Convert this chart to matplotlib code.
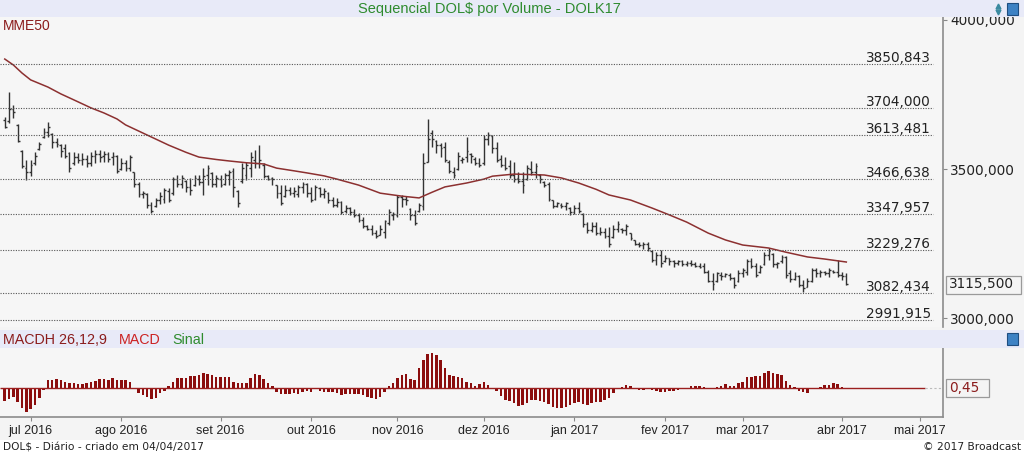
#!/usr/bin/env python3
"""
Sequencial DOL$ por Volume - DOLK17: daily OHLC bars, MME50 and MACDH panel.
"""

import numpy as np
import pandas as pd
import matplotlib
matplotlib.use("Agg")
import matplotlib.pyplot as plt
from matplotlib.patches import Rectangle
from matplotlib.lines import Line2D
from matplotlib.transforms import blended_transform_factory

# ---- data ----
start_date = "2016-06-23"
end_date = "2017-05-12"
holidays = ["2016-09-07", "2016-10-12", "2016-11-02", "2016-11-15", "2016-12-30",
            "2017-01-25", "2017-02-27", "2017-02-28", "2017-04-14", "2017-04-21",
            "2017-05-01"]
month_names = ["jan", "fev", "mar", "abr", "mai", "jun",
               "jul", "ago", "set", "out", "nov", "dez"]

highs = [3674, 3758, 3715, 3651, 3564, 3530, 3530, 3557, 3591, 3638,
         3658, 3621, 3604, 3584, 3584, 3557, 3557, 3554, 3554, 3547,
         3557, 3564, 3564, 3560, 3557, 3557, 3547, 3537, 3530, 3547,
         3490, 3456, 3426, 3419, 3389, 3403, 3423, 3436, 3436, 3473,
         3480, 3480, 3463, 3470, 3480, 3480, 3503, 3513, 3490, 3480,
         3480, 3487, 3497, 3503, 3429, 3520, 3523, 3557, 3564, 3580,
         3520, 3480, 3473, 3446, 3446, 3446, 3440, 3440, 3446, 3456,
         3453, 3440, 3446, 3440, 3436, 3423, 3406, 3403, 3393, 3379,
         3372, 3366, 3352, 3339, 3312, 3312, 3295, 3312, 3329, 3366,
         3356, 3413, 3413, 3409, 3369, 3362, 3386, 3554, 3668, 3631,
         3597, 3587, 3591, 3530, 3507, 3557, 3540, 3607, 3554, 3540,
         3537, 3614, 3624, 3614, 3591, 3547, 3540, 3530, 3523, 3490,
         3490, 3513, 3527, 3520, 3483, 3460, 3456, 3396, 3389, 3386,
         3389, 3372, 3379, 3389, 3352, 3322, 3322, 3322, 3305, 3302,
         3305, 3312, 3325, 3302, 3315, 3285, 3262, 3255, 3255, 3255,
         3228, 3221, 3228, 3211, 3201, 3195, 3195, 3195, 3191, 3195,
         3188, 3184, 3184, 3161, 3151, 3154, 3154, 3151, 3151, 3138,
         3161, 3168, 3198, 3201, 3184, 3178, 3221, 3235, 3218, 3188,
         3211, 3208, 3161, 3154, 3144, 3127, 3134, 3168, 3168, 3161,
         3158, 3168, 3161, 3195, 3154, 3151]

lows = [3638, 3654, 3671, 3591, 3503, 3463, 3476, 3513, 3564, 3604,
        3607, 3570, 3574, 3540, 3537, 3490, 3513, 3520, 3513, 3507,
        3510, 3520, 3523, 3523, 3523, 3513, 3487, 3497, 3493, 3493,
        3440, 3406, 3403, 3369, 3352, 3372, 3383, 3386, 3389, 3413,
        3440, 3436, 3423, 3413, 3443, 3446, 3413, 3446, 3440, 3440,
        3440, 3446, 3446, 3406, 3372, 3453, 3463, 3473, 3503, 3503,
        3470, 3463, 3446, 3403, 3379, 3406, 3413, 3406, 3406, 3419,
        3406, 3389, 3396, 3406, 3403, 3386, 3372, 3372, 3349, 3352,
        3346, 3339, 3322, 3302, 3295, 3278, 3268, 3278, 3268, 3312,
        3329, 3339, 3372, 3379, 3329, 3312, 3356, 3362, 3523, 3574,
        3554, 3540, 3523, 3487, 3470, 3497, 3520, 3523, 3520, 3513,
        3507, 3513, 3580, 3554, 3523, 3507, 3497, 3470, 3456, 3453,
        3419, 3463, 3480, 3470, 3453, 3440, 3393, 3369, 3372, 3369,
        3362, 3346, 3349, 3352, 3305, 3285, 3289, 3278, 3278, 3268,
        3238, 3268, 3289, 3285, 3278, 3262, 3245, 3238, 3231, 3225,
        3188, 3178, 3171, 3188, 3178, 3171, 3178, 3174, 3174, 3174,
        3171, 3168, 3151, 3121, 3094, 3121, 3127, 3138, 3127, 3101,
        3121, 3138, 3144, 3168, 3138, 3151, 3178, 3195, 3171, 3168,
        3184, 3134, 3121, 3127, 3104, 3087, 3104, 3121, 3138, 3138,
        3144, 3138, 3151, 3138, 3127, 3111]

opens = [3665, 3660, 3700, 3648, 3560, 3505, 3490, 3520, 3567, 3607,
         3625, 3618, 3590, 3580, 3570, 3555, 3520, 3540, 3530, 3535,
         3520, 3545, 3550, 3545, 3550, 3540, 3545, 3500, 3520, 3505,
         3490, 3450, 3415, 3415, 3380, 3375, 3395, 3400, 3425, 3420,
         3465, 3450, 3460, 3440, 3448, 3465, 3455, 3480, 3485, 3450,
         3465, 3450, 3480, 3495, 3425, 3460, 3480, 3505, 3530, 3520,
         3515, 3478, 3470, 3445, 3420, 3410, 3430, 3420, 3415, 3440,
         3450, 3420, 3400, 3435, 3415, 3420, 3395, 3380, 3390, 3360,
         3370, 3355, 3345, 3330, 3310, 3300, 3285, 3280, 3290, 3320,
         3345, 3345, 3405, 3400, 3365, 3345, 3360, 3375, 3525, 3620,
         3595, 3580, 3575, 3525, 3490, 3500, 3530, 3540, 3550, 3535,
         3520, 3520, 3600, 3610, 3570, 3535, 3515, 3510, 3480, 3470,
         3460, 3468, 3500, 3490, 3480, 3458, 3450, 3395, 3375, 3380,
         3375, 3370, 3355, 3370, 3350, 3315, 3295, 3310, 3285, 3290,
         3275, 3272, 3300, 3300, 3295, 3285, 3262, 3250, 3245, 3250,
         3226, 3195, 3210, 3190, 3200, 3190, 3185, 3190, 3180, 3185,
         3180, 3175, 3175, 3155, 3125, 3125, 3145, 3140, 3145, 3135,
         3125, 3150, 3155, 3190, 3175, 3155, 3180, 3210, 3215, 3180,
         3190, 3205, 3150, 3130, 3140, 3110, 3105, 3125, 3160, 3150,
         3155, 3150, 3158, 3155, 3145, 3140]

closes = [3642, 3700, 3690, 3594, 3510, 3490, 3515, 3545, 3585, 3625,
          3640, 3590, 3585, 3560, 3545, 3505, 3540, 3530, 3535, 3520,
          3545, 3550, 3540, 3550, 3535, 3545, 3495, 3520, 3505, 3540,
          3450, 3415, 3420, 3380, 3360, 3395, 3410, 3430, 3395, 3465,
          3450, 3470, 3440, 3430, 3470, 3455, 3475, 3505, 3450, 3470,
          3445, 3480, 3490, 3440, 3385, 3505, 3515, 3540, 3520, 3530,
          3475, 3468, 3465, 3420, 3385, 3430, 3420, 3425, 3440, 3450,
          3420, 3395, 3440, 3415, 3425, 3395, 3380, 3390, 3355, 3370,
          3355, 3345, 3330, 3310, 3300, 3285, 3275, 3300, 3325, 3355,
          3350, 3405, 3400, 3395, 3345, 3320, 3380, 3520, 3600, 3600,
          3580, 3570, 3530, 3495, 3480, 3545, 3535, 3560, 3545, 3520,
          3515, 3600, 3615, 3570, 3530, 3515, 3505, 3480, 3465, 3460,
          3445, 3505, 3490, 3510, 3465, 3445, 3400, 3375, 3385, 3375,
          3385, 3355, 3370, 3360, 3315, 3295, 3310, 3285, 3290, 3275,
          3250, 3300, 3315, 3295, 3310, 3270, 3250, 3245, 3250, 3235,
          3195, 3210, 3185, 3200, 3190, 3185, 3190, 3180, 3185, 3180,
          3175, 3172, 3155, 3125, 3115, 3150, 3140, 3148, 3135, 3110,
          3150, 3160, 3190, 3175, 3145, 3170, 3210, 3225, 3180, 3185,
          3205, 3145, 3130, 3140, 3110, 3100, 3125, 3160, 3150, 3155,
          3150, 3160, 3155, 3145, 3140, 3115.5]

# MME50 read at sample bars
mme_idx = [0, 2, 4, 6, 10, 13, 16, 20, 23, 26, 28, 33, 38, 42, 45, 49, 52, 56,
           60, 63, 67, 70, 74, 77, 82, 87, 92, 96, 99, 102, 107, 111, 113, 118,
           125, 129, 133, 137, 140, 145, 150, 154, 158, 163, 167, 171, 177, 181,
           186, 190, 195]
mme_val = [3869, 3849, 3822, 3799, 3775, 3752, 3732, 3705, 3688, 3668, 3648,
           3614, 3580, 3556, 3540, 3532, 3527, 3521, 3517, 3503, 3494, 3487,
           3477, 3466, 3446, 3419, 3409, 3403, 3422, 3440, 3453, 3466, 3476,
           3483, 3480, 3470, 3453, 3432, 3413, 3396, 3369, 3346, 3322, 3285,
           3262, 3245, 3235, 3221, 3205, 3198, 3188]

macdh = [-12.3, -11, -9, -13.3, -20, -23.3, -21, -16.7, -10, -1.5,
         8.3, 8.3, 9, 8.3, 6, 5, 5, 4.3, 4.3, 5.7,
         6.3, 7.7, 9, 9, 8.3, 10, 8.3, 8.3, 8.3, 6,
         0.7, -4.3, -6.7, -8.3, -11, -10, -5, -2.3, 2.3, 6.7,
         10, 10, 10, 12.3, 12.3, 13.3, 15, 14.3, 13.3, 11,
         11, 11.7, 11.7, 6.7, 5, 5.7, 5.7, 10, 14.3, 13.3,
         9, 5, 2.3, -3.3, -5.7, -5.7, -5.7, -5, -5.7, -4,
         -2.3, -3.3, -1, -2.3, -3.3, -3.3, -4, -4.3, -6.7, -6,
         -5.7, -5.7, -6, -7, -9, -10, -11, -8.3, -3.3, 2.3,
         5, 10, 13.3, 14.3, 9, 8.3, 20, 28.3, 34, 35.7,
         33.3, 28.3, 20, 13.3, 12.3, 11, 10, 6.7, 5, 2.3,
         4.3, 6.7, 3.3, 0, -2.3, -7.7, -11.7, -13, -15, -17.7,
         -17, -15, -12, -12, -13, -13.3, -16, -19, -20, -20,
         -19, -17, -15, -13.3, -16, -17, -15, -14, -14, -12,
         -10, -5, 0.5, 1.7, 3.3, 2, 0, -1.7, -1.7, -1,
         -1.7, -3, -3.3, -3.3, -3, -3, -1.7, -0.7, 0, 2.3,
         2.3, 2.3, 1, -1, 0, 1.7, 2, 4, 2.3, 2,
         5.7, 6.7, 11, 11, 12.3, 12, 15, 17, 15, 14,
         13.3, 7.7, 3.3, 1, -3, -3.3, -5, -0.5, 0.5, 1.7,
         3, 3.3, 5, 4, 1.7, 0.45]

levels = [3850.843, 3704.000, 3613.481, 3466.638, 3347.957, 3229.276, 3082.434, 2991.915]
price_ticks = [3000, 3500, 4000]
last_price = 3115.5
last_macdh = 0.45

# ---- layout helpers (pixel -> figure fraction) ----
W, H = 1024, 455


def fx(x):
    return x / W


def fy(y):
    return 1 - y / H


def br(v, dec=3):
    return f"{v:.{dec}f}".replace(".", ",")


plt.rcParams["font.family"] = ["Liberation Sans", "DejaVu Sans"]
NUMFONT = "DejaVu Sans"
DARKRED = "#8b1c1c"
BAND = "#e8eaf8"

dates = pd.bdate_range(start_date, end_date, freq="C", holidays=holidays)
month_pos = [i for i in range(1, len(dates)) if dates[i].month != dates[i - 1].month]
month_lab = [f"{month_names[dates[i].month - 1]} {dates[i].year}" for i in month_pos]

x = np.arange(len(closes))
XMIN, XMAX = -1.1, 217.4

fig = plt.figure(figsize=(10.24, 4.55), dpi=100, facecolor="#f4f4f4")

# bands
for y0, y1, col in [(0, 17, BAND), (330, 348, BAND), (440, 455, "white")]:
    fig.patches.append(Rectangle((0, fy(y1)), 1, (y1 - y0) / H, transform=fig.transFigure,
                                 facecolor=col, edgecolor="none", zorder=0))

fig.text(fx(489), fy(8.5), "Sequencial DOL$ por Volume - DOLK17", color="#2e8b2e",
         fontsize=10.5, ha="center", va="center")

# small icons
fig.add_artist(Line2D([fx(998)], [fy(5.5)], marker="^", ms=3.5, color="#3a8aa0",
                      transform=fig.transFigure))
fig.add_artist(Line2D([fx(998)], [fy(11.5)], marker="v", ms=3.5, color="#3a8aa0",
                      transform=fig.transFigure))
for ytop in (3, 333):
    fig.patches.append(Rectangle((fx(1007), fy(ytop + 12)), 11 / W, 12 / H,
                                 transform=fig.transFigure, facecolor="#3d82c4",
                                 edgecolor="#1f4e80", lw=0.8))

# ---- main price panel ----
ax = fig.add_axes([0, fy(327), 943 / W, (327 - 17) / H])
ax.set_facecolor("#f6f6f6")
ax.set_xlim(XMIN, XMAX)
ax.set_ylim(2970, 4010)

bar_col = "#333333"
ax.vlines(x, lows, highs, color=bar_col, lw=1.0)
ax.hlines(opens, x - 0.42, x, color=bar_col, lw=1.0)
ax.hlines(closes, x, x + 0.42, color=bar_col, lw=1.0)

ax.plot(mme_idx, mme_val, color="#8c3030", lw=1.1)

xr = 933 / 943
for lv in levels:
    ax.axhline(lv, xmin=0, xmax=xr, color="#555555", lw=0.8, ls=(0, (1, 1.3)))
    ax.annotate(br(lv), xy=(931 / 943, lv), xycoords=("axes fraction", "data"),
                xytext=(0, 2), textcoords="offset pixels", ha="right", va="baseline",
                fontsize=9.8, family=NUMFONT, color="#222222")

ax.text(3 / 943, 0.972, "MME50", transform=ax.transAxes, color=DARKRED,
        fontsize=10, ha="left", va="center")

ax.set_xticks([])
ax.yaxis.tick_right()
ax.set_yticks(price_ticks)
ax.set_yticklabels([br(v) for v in price_ticks], family=NUMFONT)
ax.tick_params(axis="y", length=3, width=0.8, color="#888888", pad=2,
               labelsize=9.8, labelcolor="#222222")
for s in ("top", "left", "bottom"):
    ax.spines[s].set_visible(False)
ax.spines["right"].set_color("#8c8c8c")
ax.spines["right"].set_linewidth(1.2)

# last price box
tr = blended_transform_factory(fig.transFigure, ax.transData)
ax.text(fx(949), last_price, br(last_price), transform=tr, ha="left", va="center",
        fontsize=9.8, family=NUMFONT, color="#222222", clip_on=False)
fig.patches.append(Rectangle((fx(946), fy(294)), 75 / W, 18 / H, transform=fig.transFigure,
                             facecolor="none", edgecolor="#9a9a9a", lw=0.9))

# ---- MACDH panel ----
ax2 = fig.add_axes([0, fy(416.7), 943 / W, (416.7 - 348) / H])
ax2.set_facecolor("#f6f6f6")
ax2.set_xlim(XMIN, XMAX)
ax2.set_ylim(-28.4, 40.3)
ax2.bar(x, macdh, width=0.58, color="#8b0d0d", edgecolor="none")
ax2.hlines(0, XMIN, 213.3, color="#9b1f1f", lw=1.0)
ax2.hlines(0, 213.3, XMAX, color="#bbbbbb", lw=0.8, ls=(0, (2, 2)))

ax2.set_yticks([])
ax2.set_xticks(month_pos)
ax2.set_xticklabels(month_lab)
ax2.tick_params(axis="x", length=3, width=0.8, color="#888888", pad=3,
                labelsize=9, labelcolor="#222222")
for s in ("top", "left"):
    ax2.spines[s].set_visible(False)
for s in ("right", "bottom"):
    ax2.spines[s].set_color("#8c8c8c")
    ax2.spines[s].set_linewidth(1.2)

tr2 = blended_transform_factory(fig.transFigure, ax2.transData)
ax2.text(fx(949), 0, br(last_macdh, 2), transform=tr2, ha="left", va="center",
         fontsize=9.8, family=NUMFONT, color=DARKRED, clip_on=False)
fig.patches.append(Rectangle((fx(946), fy(397)), 43 / W, 18 / H, transform=fig.transFigure,
                             facecolor="none", edgecolor="#9a9a9a", lw=0.9))

# MACD header
fig.text(fx(3), fy(339.5), "MACDH 26,12,9", color=DARKRED, fontsize=10.3, ha="left", va="center")
fig.text(fx(119), fy(339.5), "MACD", color="#cc2222", fontsize=10.3, ha="left", va="center")
fig.text(fx(172), fy(339.5), "Sinal", color="#2e8b2e", fontsize=10.3, ha="left", va="center")

# footer
fig.text(fx(3), fy(447.5), "DOL$ - Diário - criado em 04/04/2017", family=NUMFONT,
         fontsize=7.7, color="#222222", ha="left", va="center")
fig.text(fx(1021), fy(447.5), "© 2017 Broadcast", family=NUMFONT,
         fontsize=7.7, color="#222222", ha="right", va="center")

fig.savefig("out.png", dpi=100, facecolor=fig.get_facecolor())
plt.close(fig)
